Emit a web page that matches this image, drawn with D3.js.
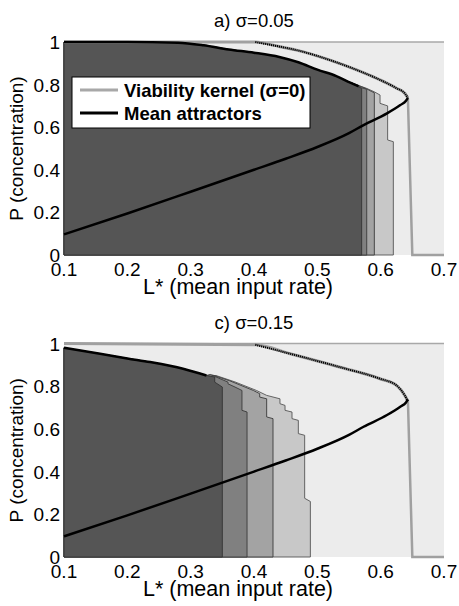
<!DOCTYPE html>
<html>
<head>
<meta charset="utf-8">
<script src="https://cdn.jsdelivr.net/npm/d3@7"></script>
<style>
  body { margin: 0; background: #fff; }
  text { font-family: "Liberation Sans", Arial, sans-serif; fill: #000; }
</style>
</head>
<body>
<div id="chart"></div>
<script>
// ---- data (L*, P) ----
var xTicks = [0.1, 0.2, 0.3, 0.4, 0.5, 0.6, 0.7];
var yTicks = [0, 0.2, 0.4, 0.6, 0.8, 1];
var titles = ['a) \u03c3=0.05', 'c) \u03c3=0.15'];
var legendLabels = ['Viability kernel (\u03c3=0)', 'Mean attractors'];

// lower branch of the mean attractors (same in both panels)
var lowerBranch = [[0.1, 0.097], [0.2, 0.195], [0.3, 0.297], [0.4, 0.4], [0.45, 0.452], [0.5, 0.507],
    [0.55, 0.572], [0.573, 0.61], [0.61, 0.665], [0.631, 0.704], [0.64, 0.724], [0.643, 0.738]];

// upper branch of the mean attractors
var upperA = [[0.1, 1.0], [0.2, 1.0], [0.28, 0.997], [0.32, 0.985], [0.36, 0.965], [0.4, 0.95],
    [0.44, 0.93], [0.47, 0.905], [0.5, 0.87], [0.53, 0.84], [0.552, 0.809], [0.565, 0.792]];
var upperC = [[0.1, 0.98], [0.157, 0.952], [0.2, 0.93], [0.236, 0.913], [0.288, 0.882], [0.325, 0.85]];

// sigma=0 viability kernel boundary
var kernelA = [[0.1, 1], [0.402, 1.0], [0.441, 0.978], [0.467, 0.962], [0.52, 0.915], [0.562, 0.869],
    [0.599, 0.822], [0.625, 0.783], [0.638, 0.759], [0.643, 0.738]];
var kernelC = [[0.1, 1], [0.402, 0.994], [0.457, 0.952], [0.536, 0.889], [0.599, 0.835], [0.625, 0.804],
    [0.638, 0.757], [0.643, 0.73]];
var kernelDrop = [[0.643, 0.735], [0.65, 0], [0.7, 0]];

// regions (viable with given probability), continuing after the upper branch
var regionsA = [
    [[0.556, 0.806], [0.578, 0.782], [0.59, 0.766], [0.599, 0.751], [0.599, 0.712], [0.607, 0.704],
     [0.611, 0.7], [0.611, 0.54], [0.62, 0.532], [0.62, 0]],
    [[0.556, 0.806], [0.578, 0.78], [0.586, 0.767], [0.59, 0.762], [0.59, 0]],
    [[0.556, 0.806], [0.57, 0.785], [0.578, 0.778], [0.578, 0]],
    [[0.559, 0.798], [0.57, 0.782], [0.57, 0]]
];
var regionsC = [
    [[0.34, 0.85], [0.37, 0.82], [0.404, 0.78], [0.42, 0.757], [0.441, 0.741], [0.441, 0.718],
     [0.449, 0.71], [0.449, 0.687], [0.46, 0.679], [0.46, 0.648], [0.47, 0.64], [0.47, 0.578],
     [0.48, 0.57], [0.48, 0.275], [0.489, 0.26], [0.489, 0]],
    [[0.335, 0.852], [0.362, 0.825], [0.399, 0.78], [0.409, 0.765], [0.409, 0.749], [0.42, 0.741],
     [0.42, 0.656], [0.43, 0.648], [0.43, 0]],
    [[0.331, 0.855], [0.359, 0.819], [0.359, 0.811], [0.37, 0.796], [0.381, 0.78], [0.381, 0.687],
     [0.389, 0.679], [0.389, 0]],
    [[0.338, 0.843], [0.338, 0.819], [0.35, 0.796], [0.35, 0]]
];
var regionFills = ['#c8c8c8', '#a3a3a3', '#808080', '#555555'];
var regionStrokes = ['#555', '#3a3a3a', '#3a3a3a', '#333'];

var W = 459, H = 606;
var svg = d3.select('#chart').append('svg').attr('width', W).attr('height', H);

var panels = [
    {title: titles[0], top: 42, bottom: 255, upper: upperA, kernel: kernelA, regions: regionsA, legend: true},
    {title: titles[1], top: 343.5, bottom: 557, upper: upperC, kernel: kernelC, regions: regionsC, legend: false}
];

panels.forEach(function(p) {
    var x = d3.scaleLinear().domain([0.1, 0.7]).range([64, 444]);
    var y = d3.scaleLinear().domain([0, 1]).range([p.bottom, p.top]);
    var line = d3.line().x(function(d) { return x(d[0]); }).y(function(d) { return y(d[1]); });
    var smooth = d3.line().curve(d3.curveMonotoneX)
        .x(function(d) { return x(d[0]); }).y(function(d) { return y(d[1]); });
    var g = svg.append('g');

    g.append('rect')
        .attr('x', x(0.1)).attr('y', y(1))
        .attr('width', x(0.7) - x(0.1)).attr('height', y(0) - y(1))
        .attr('fill', '#ececec');

    p.regions.forEach(function(steps, i) {
        var start = steps[0][0];
        var pts = [[0.1, 0]].concat(p.upper.filter(function(d) { return d[0] < start; }), steps);
        g.append('path')
            .attr('d', line(pts) + 'Z')
            .attr('fill', regionFills[i])
            .attr('stroke', regionStrokes[i])
            .attr('stroke-width', 0.9);
    });

    // frame top, kernel boundary
    g.append('path').attr('d', line([[0.1, 1], [0.7, 1]]))
        .attr('stroke', '#a8a8a8').attr('stroke-width', 1.5).attr('fill', 'none');
    g.append('path').attr('d', smooth(p.kernel))
        .attr('stroke', '#a0a0a0').attr('stroke-width', 3).attr('fill', 'none');
    g.append('path').attr('d', line(kernelDrop))
        .attr('stroke', '#a0a0a0').attr('stroke-width', 2.5).attr('fill', 'none');
    g.append('path').attr('d', smooth(p.kernel.filter(function(d) { return d[0] >= 0.4; })))
        .attr('stroke', '#000').attr('stroke-width', 2)
        .attr('stroke-dasharray', '1.2,0.8').attr('fill', 'none');

    // mean attractors
    g.append('path').attr('d', smooth(p.upper))
        .attr('stroke', '#000').attr('stroke-width', 2.5).attr('fill', 'none');
    g.append('path').attr('d', smooth(lowerBranch))
        .attr('stroke', '#000').attr('stroke-width', 2.5).attr('fill', 'none');

    // tick labels only, the original has no tick marks
    g.selectAll('.xt').data(xTicks).enter().append('text')
        .attr('x', function(d) { return x(d); })
        .attr('y', p.bottom + 21)
        .attr('text-anchor', 'middle')
        .style('font-size', '19px')
        .text(function(d) { return d3.format('.1f')(d); });
    g.selectAll('.yt').data(yTicks).enter().append('text')
        .attr('x', 60)
        .attr('y', function(d) { return y(d) + 7; })
        .attr('text-anchor', 'end')
        .style('font-size', '19px')
        .text(function(d) { return d === 0 || d === 1 ? d : d3.format('.1f')(d); });

    g.append('text')
        .attr('x', 254).attr('y', p.top - 15)
        .attr('text-anchor', 'middle')
        .style('font-size', '18.5px')
        .text(p.title);
    g.append('text')
        .attr('x', 238).attr('y', p.bottom + 38.5)
        .attr('text-anchor', 'middle')
        .style('font-size', '21.5px')
        .text('L* (mean input rate)');
    g.append('text')
        .attr('transform', 'translate(23,' + (p.top + p.bottom) / 2 + ') rotate(-90)')
        .attr('text-anchor', 'middle')
        .style('font-size', '19px')
        .text('P (concentration)');

    if(p.legend) {
        var lg = g.append('g').attr('transform', 'translate(72,77)');
        lg.append('rect').attr('width', 238).attr('height', 51)
            .attr('fill', '#fff').attr('stroke', '#000').attr('stroke-width', 1);
        var lcol = ['#a8a8a8', '#000'];
        legendLabels.forEach(function(t, i) {
            lg.append('line')
                .attr('x1', 8).attr('x2', 46)
                .attr('y1', 13 + i * 23).attr('y2', 13 + i * 23)
                .attr('stroke', lcol[i]).attr('stroke-width', 3);
            lg.append('text')
                .attr('x', 52).attr('y', 20 + i * 23)
                .style('font-size', '18.5px').style('font-weight', 'bold')
                .text(t);
        });
    }
});
</script>
</body>
</html>
